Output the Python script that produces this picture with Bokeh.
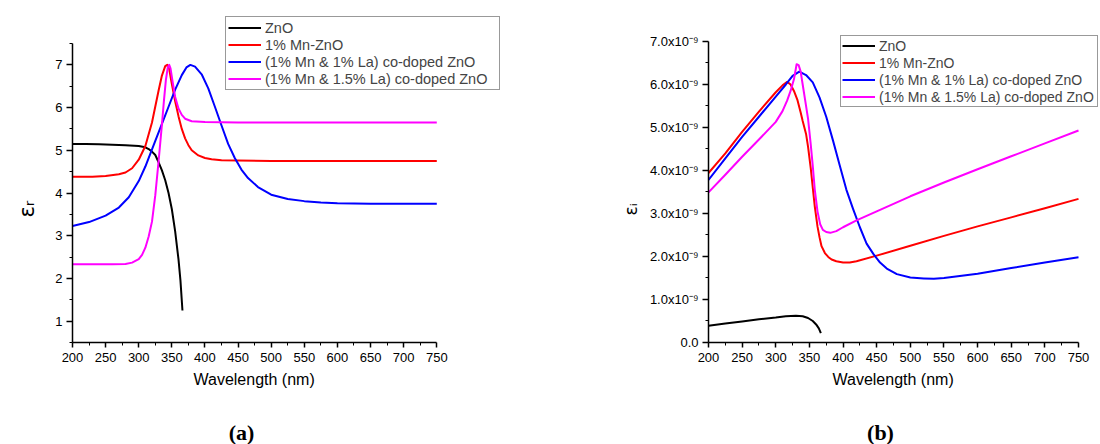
from bokeh.plotting import figure
from bokeh.models import Legend, LegendItem, FixedTicker, Range1d, Title
from bokeh.core.properties import value
from bokeh.layouts import row, column
from bokeh.embed import file_html
from bokeh.resources import INLINE

# ---------------- (a) real part of permittivity ----------------
zno_r_x = [200, 220, 240, 260, 280, 300, 310, 315, 320, 325, 330, 335, 340, 345,
           350, 355, 360, 363, 366]
zno_r_y = [5.15, 5.15, 5.14, 5.13, 5.12, 5.10, 5.07, 5.03, 4.97, 4.89, 4.72, 4.53,
           4.30, 4.00, 3.62, 3.10, 2.45, 1.95, 1.25]

mn_r_x = [200, 230, 250, 270, 280, 290, 300, 310, 320, 330, 335, 340, 343, 346,
          350, 355, 360, 365, 370, 375, 380, 390, 400, 410, 425, 450, 500, 600, 750]
mn_r_y = [4.38, 4.38, 4.40, 4.44, 4.48, 4.58, 4.78, 5.10, 5.65, 6.40, 6.75, 6.97,
          7.00, 6.90, 6.55, 6.15, 5.80, 5.50, 5.28, 5.12, 5.00, 4.88, 4.82, 4.79,
          4.77, 4.76, 4.75, 4.75, 4.75]

la1_r_x = [200, 225, 250, 270, 285, 300, 310, 318, 325, 335, 345, 355, 365, 372,
           378, 385, 395, 405, 415, 425, 435, 445, 455, 465, 480, 500, 525, 550,
           575, 600, 650, 750]
la1_r_y = [3.23, 3.32, 3.47, 3.66, 3.90, 4.28, 4.62, 4.94, 5.22, 5.62, 6.02, 6.42,
           6.76, 6.94, 7.00, 6.96, 6.78, 6.45, 6.02, 5.58, 5.15, 4.82, 4.55, 4.35,
           4.14, 3.96, 3.86, 3.81, 3.78, 3.76, 3.75, 3.75]

la15_r_x = [200, 260, 280, 290, 300, 305, 310, 315, 320, 325, 330, 335, 338, 341,
            344, 346, 348, 351, 355, 360, 365, 370, 380, 400, 450, 750]
la15_r_y = [2.33, 2.33, 2.34, 2.37, 2.45, 2.55, 2.72, 2.98, 3.33, 3.95, 4.75, 5.60,
            6.15, 6.65, 6.95, 7.00, 6.92, 6.62, 6.25, 5.98, 5.83, 5.74, 5.68,
            5.66, 5.65, 5.65]

# ---------------- (b) imaginary part of permittivity (units of 1e-9) ----------------
zno_i_x = [200, 225, 250, 275, 300, 315, 330, 340, 348, 355, 360, 364, 367]
zno_i_y = [0.39, 0.44, 0.49, 0.54, 0.58, 0.61, 0.62, 0.61, 0.57, 0.50, 0.42, 0.33, 0.22]

mn_i_x = [200, 225, 250, 275, 300, 310, 317, 322, 327, 332, 337, 340, 345, 348,
          352, 355, 358, 362, 365, 368, 373, 378, 383, 390, 400, 410, 420, 450,
          500, 550, 600, 650, 700, 750]
mn_i_y = [3.94, 4.40, 4.90, 5.37, 5.82, 5.98, 6.06, 6.00, 5.85, 5.65, 5.35, 5.15,
          4.85, 4.55, 4.05, 3.60, 3.16, 2.70, 2.45, 2.24, 2.08, 1.99, 1.93, 1.89,
          1.86, 1.86, 1.89, 2.02, 2.25, 2.48, 2.70, 2.91, 3.12, 3.34]

la1_i_x = [200, 225, 250, 275, 300, 315, 325, 335, 345, 355, 365, 375, 385, 395,
           405, 415, 425, 435, 445, 455, 465, 480, 500, 520, 535, 550, 600, 650,
           700, 750]
la1_i_y = [3.78, 4.28, 4.78, 5.25, 5.72, 6.00, 6.20, 6.30, 6.22, 6.05, 5.70, 5.25,
           4.70, 4.12, 3.55, 3.10, 2.68, 2.30, 2.06, 1.86, 1.72, 1.59, 1.51, 1.49,
           1.48, 1.50, 1.60, 1.73, 1.86, 1.98]

la15_i_x = [200, 225, 250, 275, 300, 310, 317, 322, 327, 331, 334, 337, 340, 344,
            348, 352, 355, 358, 362, 366, 370, 375, 381, 390, 400, 420, 450, 500,
            550, 600, 650, 700, 750]
la15_i_y = [3.49, 3.90, 4.32, 4.72, 5.13, 5.38, 5.63, 5.85, 6.12, 6.47, 6.45, 6.30,
            6.00, 5.60, 5.20, 4.60, 4.10, 3.55, 3.05, 2.75, 2.62, 2.57, 2.55, 2.59,
            2.68, 2.84, 3.05, 3.40, 3.72, 4.03, 4.33, 4.63, 4.93]

series_names = ["ZnO", "1% Mn-ZnO", "(1% Mn & 1% La) co-doped ZnO",
                "(1% Mn & 1.5% La) co-doped ZnO"]
series_colors = ["#000000", "#ff0000", "#0000ff", "#ff00ff"]

x_major = [200, 250, 300, 350, 400, 450, 500, 550, 600, 650, 700, 750]
x_minor = [225, 275, 325, 375, 425, 475, 525, 575, 625, 675, 725]
yr_major = [1, 2, 3, 4, 5, 6, 7]
yr_minor = [0.5, 1.5, 2.5, 3.5, 4.5, 5.5, 6.5, 7.5]
yi_major = [0, 1, 2, 3, 4, 5, 6, 7]
yi_minor = [0.5, 1.5, 2.5, 3.5, 4.5, 5.5, 6.5]
yi_labels = ["0.0"] + [f"{v}.0x10\u207b\u2079" for v in yi_major[1:]]
panel_letters = ["(a)", "(b)"]

SANS = "Liberation Sans"
PANEL_W, PANEL_H, CAPTION_H = 550, 410, 34
TOP, BOTTOM = 16, 68    # shared borders so both frames line up in the row


def make_panel(border_left, frame_w, x_hi, y_lo, y_hi, y_top):
    # The frame reaches past the axis ends so the legend box can overhang them;
    # the axes themselves are bounded to the data extent.
    p = figure(width=PANEL_W, height=PANEL_H, output_backend="svg", toolbar_location=None,
               x_range=Range1d(200, x_hi), y_range=Range1d(y_lo, y_top),
               min_border_left=border_left, min_border_right=PANEL_W - border_left - frame_w,
               min_border_top=TOP, min_border_bottom=BOTTOM)
    p.outline_line_color = None
    p.grid.visible = False
    p.background_fill_color = "white"
    p.border_fill_color = "white"
    for ax in (p.xaxis[0], p.yaxis[0]):
        ax.axis_line_width = 1.5
        ax.major_tick_line_width = 1.5
        ax.minor_tick_line_width = 1
        ax.major_tick_in = 0
        ax.minor_tick_in = 0
        ax.minor_tick_out = 3
        ax.major_label_text_font = SANS
        ax.major_label_text_font_size = "13px"
        ax.major_label_text_color = "black"
    p.xaxis[0].bounds = (200, 750)
    p.yaxis[0].bounds = (y_lo, y_hi)
    p.xaxis[0].ticker = FixedTicker(ticks=x_major, minor_ticks=x_minor)
    p.xaxis[0].major_tick_out = 5
    p.xaxis[0].major_label_standoff = 5
    p.yaxis[0].major_tick_out = 6
    p.yaxis[0].major_label_standoff = 4
    return p


def add_axis_titles(p, x_offset, y_text, y_font, y_size, y_standoff, y_offset):
    # axis titles as Titles so they can be centred on the bounded axes
    p.add_layout(Title(text="Wavelength (nm)", align="left", offset=x_offset,
                       vertical_align="middle", standoff=10, text_font=SANS,
                       text_font_size="16px", text_font_style="normal",
                       text_color="black"), "below")
    p.add_layout(Title(text=y_text, align="left", offset=y_offset,
                       vertical_align="middle", standoff=y_standoff, text_font=y_font,
                       text_font_size=y_size, text_font_style="normal",
                       text_color="black"), "left")


def add_curves(p, xs, ys):
    rs = []
    for x, y, c in zip(xs, ys, series_colors):
        rs.append(p.line(x, y, line_color=c, line_width=2, line_join="round"))
    return rs


def add_legend(p, renderers, loc, pad, label_w, size):
    items = [LegendItem(label=n, renderers=[r]) for n, r in zip(series_names, renderers)]
    leg = Legend(items=items, location=loc, padding=pad, margin=0, spacing=0,
                 glyph_width=33, glyph_height=17, label_height=17, label_width=label_w,
                 label_standoff=4, label_text_font=SANS, label_text_font_size=size,
                 border_line_color="#333333", border_line_width=1,
                 background_fill_color="white", background_fill_alpha=1)
    p.add_layout(leg, "center")


# panel (a): axes 200-750 nm over 366 px, 0.5-7.5 over 299 px
pa = make_panel(70, 430, 846.2, 0.5, 7.5, 8.133)
pa.yaxis[0].ticker = FixedTicker(ticks=yr_major, minor_ticks=yr_minor)
add_axis_titles(pa, 121, "\u03b5\u1d63", "DejaVu Sans", "21px", 26, 125)
ra = add_curves(pa, [zno_r_x, mn_r_x, la1_r_x, la15_r_x],
                [zno_r_y, mn_r_y, la1_r_y, la15_r_y])
add_legend(pa, ra, (153, 252), 2, 232, "14.5px")

# panel (b): axes 200-750 nm over 370 px, 0-7 over 301 px
pb = make_panel(158, 391, 781.2, 0, 7, 7.581)
pb.yaxis[0].ticker = FixedTicker(ticks=yi_major, minor_ticks=yi_minor)
pb.yaxis[0].major_label_overrides = dict(zip(yi_major, yi_labels))
add_axis_titles(pb, 124, "\u03b5\u1d62", "DejaVu Sans", "17px", 9, 127)
rb = add_curves(pb, [zno_i_x, mn_i_x, la1_i_x, la15_i_x],
                [zno_i_y, mn_i_y, la1_i_y, la15_i_y])
add_legend(pb, rb, (132, 235), 1, 217, "14px")

# strip with the bold panel letters under the two plots
cap = figure(width=2 * PANEL_W, height=CAPTION_H, output_backend="svg",
             toolbar_location=None, x_range=Range1d(0, 2 * PANEL_W),
             y_range=Range1d(0, CAPTION_H), min_border=0)
cap.axis.visible = False
cap.grid.visible = False
cap.outline_line_color = None
cap.text(x=[241, PANEL_W + 330], y=[12, 12], text=panel_letters,
         text_font=value("Liberation Serif"), text_font_style="bold",
         text_font_size="22px", text_align="center", text_baseline="middle",
         text_color="black")

layout = column(row(pa, pb), cap)
open("out.html", "w").write(file_html(layout, INLINE))
